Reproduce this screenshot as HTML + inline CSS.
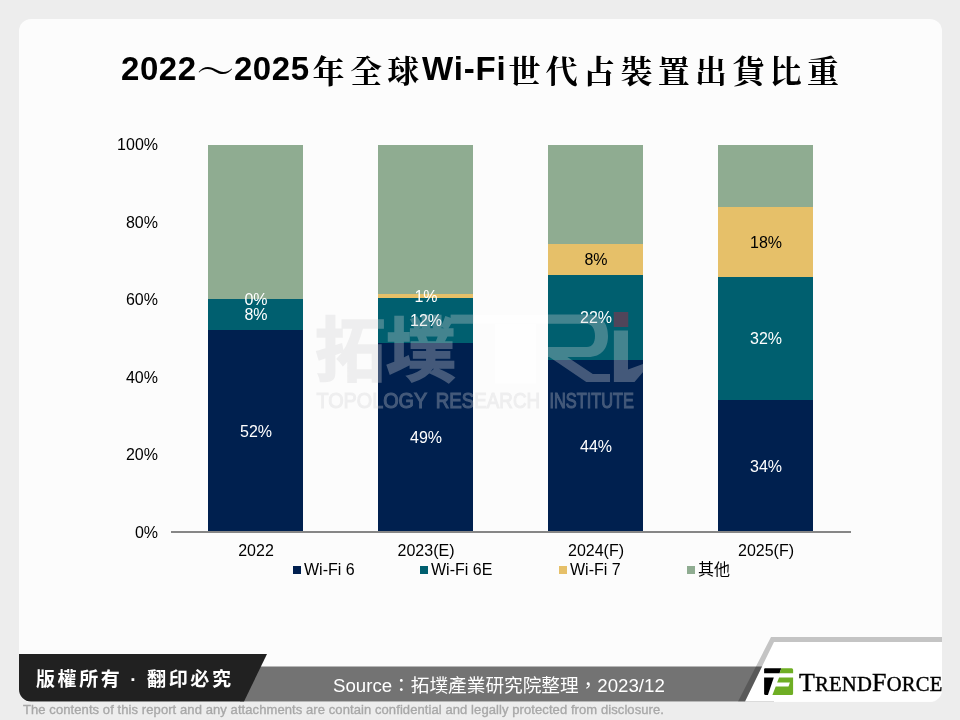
<!DOCTYPE html>
<html lang="zh-Hant">
<head>
<meta charset="utf-8">
<title>2022～2025年全球Wi-Fi世代占裝置出貨比重</title>
<style>
html,body{margin:0;padding:0;}
body{width:960px;height:720px;background:#ededed;position:relative;overflow:hidden;
  font-family:"Liberation Sans","Noto Sans CJK TC","Noto Sans CJK SC",sans-serif;}
.abs{position:absolute;}
#card{left:19px;top:19px;width:923px;height:683px;background:#fcfcfc;border-radius:12px;}
#title{left:121px;top:46px;width:800px;text-align:left;white-space:nowrap;line-height:48px;height:48px;
  color:#000;font-size:36px;}
#title .l{font-family:"Liberation Sans",sans-serif;font-weight:bold;font-size:33px;letter-spacing:0.55px;position:relative;top:-6px;}
#title .wf{letter-spacing:0.8px;margin-left:-2.5px;}
#title .c1{margin-left:3px;}
#title .c2{margin-left:2px;}
#title .c{font-family:"Noto Serif CJK SC","Noto Sans CJK SC",serif;font-weight:700;font-size:32px;letter-spacing:5.33px;position:relative;top:-3px;}
#title .w{font-family:"Noto Serif CJK SC","Noto Sans CJK SC",serif;font-weight:400;font-size:37.33px;position:relative;top:-1.5px;}
.seg{position:absolute;}
.navy{background:#00204f;}
.teal{background:#005f6f;}
.yel{background:#e6c069;}
.grn{background:#8fac91;}
.yl{position:absolute;width:60px;left:98px;text-align:right;font-size:16px;line-height:18px;height:18px;color:#000;}
.xl{position:absolute;width:170px;text-align:center;font-size:16px;line-height:18px;height:18px;top:542px;color:#000;}
.dl{position:absolute;width:96px;text-align:center;font-size:16px;line-height:18px;height:18px;color:#fff;}
.dl.k{color:#000;}
.lg{position:absolute;top:561px;font-size:16px;line-height:18px;height:18px;color:#000;white-space:nowrap;}
.lg i{position:absolute;left:-11px;top:5px;width:8px;height:8px;display:block;}
#axis{left:171px;top:531px;width:680px;height:2px;background:#868686;}
#wm{left:0;top:0;width:960px;height:720px;pointer-events:none;}
#copy{left:36px;top:667px;font-size:19px;line-height:26px;font-weight:bold;color:#fff;letter-spacing:2.6px;white-space:nowrap;
  font-family:"Liberation Sans","Noto Sans CJK TC","Noto Sans CJK SC",sans-serif;}
#src{left:333px;top:673px;font-size:18.67px;line-height:26px;color:#fff;white-space:nowrap;}
#foot{left:23px;top:702px;font-size:13px;line-height:16px;color:#a8a8a8;white-space:nowrap;letter-spacing:0.085px;-webkit-text-stroke:0.35px #a8a8a8;}
#tf{left:799px;top:666px;font-family:"Liberation Serif",serif;color:#000;white-space:nowrap;line-height:34px;font-size:20.6px;-webkit-text-stroke:0.4px #000;letter-spacing:0.22px;width:143px;overflow:hidden;}
#tf b{font-weight:normal;font-size:26px;}
</style>
</head>
<body>
<div id="card" class="abs"></div>

<div id="title" class="abs"><span class="l">2022</span><span class="w">～</span><span class="l">2025</span><span class="c c1">年全球</span><span class="l wf">Wi-Fi</span><span class="c c2">世代占裝置出貨比重</span></div>

<!-- y axis labels -->
<div class="yl" style="top:136px">100%</div>
<div class="yl" style="top:214px">80%</div>
<div class="yl" style="top:291px">60%</div>
<div class="yl" style="top:369px">40%</div>
<div class="yl" style="top:446px">20%</div>
<div class="yl" style="top:524px">0%</div>

<!-- bars -->
<div id="bars" class="abs" style="left:0;top:0">
  <!-- 2022 -->
  <div class="seg grn"  style="left:208px;width:95px;top:145px;height:154px"></div>
  <div class="seg teal" style="left:208px;width:95px;top:299px;height:31px"></div>
  <div class="seg navy" style="left:208px;width:95px;top:330px;height:202px"></div>
  <!-- 2023 -->
  <div class="seg grn"  style="left:378px;width:95px;top:145px;height:149px"></div>
  <div class="seg yel"  style="left:378px;width:95px;top:294px;height:4px"></div>
  <div class="seg teal" style="left:378px;width:95px;top:298px;height:45px"></div>
  <div class="seg navy" style="left:378px;width:95px;top:343px;height:189px"></div>
  <!-- 2024 -->
  <div class="seg grn"  style="left:548px;width:95px;top:145px;height:99px"></div>
  <div class="seg yel"  style="left:548px;width:95px;top:244px;height:31px"></div>
  <div class="seg teal" style="left:548px;width:95px;top:275px;height:85px"></div>
  <div class="seg navy" style="left:548px;width:95px;top:360px;height:172px"></div>
  <!-- 2025 -->
  <div class="seg grn"  style="left:718px;width:95px;top:145px;height:62px"></div>
  <div class="seg yel"  style="left:718px;width:95px;top:207px;height:70px"></div>
  <div class="seg teal" style="left:718px;width:95px;top:277px;height:123px"></div>
  <div class="seg navy" style="left:718px;width:95px;top:400px;height:132px"></div>
</div>
<div id="axis" class="abs"></div>

<!-- data labels -->
<div class="dl" style="left:208px;top:291px">0%</div>
<div class="dl" style="left:208px;top:306px">8%</div>
<div class="dl" style="left:208px;top:423px">52%</div>
<div class="dl" style="left:378px;top:288px">1%</div>
<div class="dl" style="left:378px;top:312px">12%</div>
<div class="dl" style="left:378px;top:429px">49%</div>
<div class="dl k" style="left:548px;top:251px">8%</div>
<div class="dl" style="left:548px;top:309px">22%</div>
<div class="dl" style="left:548px;top:438px">44%</div>
<div class="dl k" style="left:718px;top:234px">18%</div>
<div class="dl" style="left:718px;top:330px">32%</div>
<div class="dl" style="left:718px;top:458px">34%</div>

<!-- x labels -->
<div class="xl" style="left:171px">2022</div>
<div class="xl" style="left:341px">2023(E)</div>
<div class="xl" style="left:511px">2024(F)</div>
<div class="xl" style="left:681px">2025(F)</div>

<!-- legend -->
<div class="lg" style="left:304px"><i class="navy"></i>Wi-Fi 6</div>
<div class="lg" style="left:431px"><i class="teal"></i>Wi-Fi 6E</div>
<div class="lg" style="left:570px"><i class="yel"></i>Wi-Fi 7</div>
<div class="lg" style="left:698px"><i class="grn"></i>其他</div>

<!-- watermark -->
<svg id="wm" class="abs" viewBox="0 0 960 720">
  <rect x="473.5" y="314.6" width="74.5" height="9.2" fill="#ffffff" fill-opacity="0.6"/>
  <rect x="495" y="323.75" width="41" height="60" fill="#ffffff" fill-opacity="0.6"/>
  <g fill="#d2d2d4" stroke="#d2d2d4" stroke-width="0" opacity="0.32">
    <text x="315" y="376" font-family="'Noto Sans CJK TC','Noto Sans CJK SC',sans-serif" font-weight="700" stroke-width="1.6" font-size="70" textLength="141" lengthAdjust="spacingAndGlyphs">拓墣</text>
    <text x="316.4" y="408" font-family="'Liberation Sans',sans-serif" font-size="22" stroke-width="1.1"><tspan x="316.4" textLength="110.5" lengthAdjust="spacingAndGlyphs">TOPOLOGY</tspan> <tspan x="435.7" textLength="104.3" lengthAdjust="spacingAndGlyphs">RESEARCH</tspan> <tspan x="549.5" textLength="84.5" lengthAdjust="spacingAndGlyphs">INSTITUTE</tspan></text>
    <!-- TRi mark -->
    <path d="M450.6 314.6 H473.5 V323.75 H450.6 Z"/>
    <path d="M548 314.6 H588 C602 314.6 608 324 608 336 C608 348 602 357 588 357 H548 V347 H586 C592 347.5 595 343 595 336 C595 329 592 323.75 586 323.75 H548 Z"/>
    <path d="M549.4 357 H567.3 L592.8 374 H610 V382 H586.3 Z"/>
    <path d="M613.9 330.6 H628 V369.6 L643 364 L643.5 371.5 L634.5 382 H613.9 Z"/>
  </g>
  <rect x="613.75" y="312" width="14.5" height="15" fill="#c81e3c" fill-opacity="0.4"/>
</svg>

<!-- footer bars -->
<svg class="abs" style="left:0;top:0" width="960" height="720" viewBox="0 0 960 720">
  <!-- gray bar -->
  <polygon points="240,666.6 774,666.6 774,701.5 240,701.5" fill="#737373"/>
  <!-- white logo box -->
  <path d="M774 642 H942 V690 A12 12 0 0 1 930 701.5 H745 Z" fill="#ffffff"/>
  <!-- stripe -->
  <polygon points="771,637 942,637 942,642 774,642 745,701.5 738,701.5" fill="#000" fill-opacity="0.22"/>
  <!-- black band -->
  <path d="M19 654 H267 L244 701.5 H31 A12 12 0 0 1 19 689.5 Z" fill="#212121"/>
  <!-- TF icon -->
  <path d="M765.2 668.2 H781.3 L779.6 673.3 H764.1 V669.3 A1.1 1.1 0 0 1 765.2 668.2 Z" fill="#000"/>
  <path d="M764.1 677.5 H773.8 L767.9 695 H765.6 A1.5 1.5 0 0 1 764.1 693.5 Z" fill="#000"/>
  <path d="M781.3 668.2 H791.6 A1.5 1.5 0 0 1 793.1 669.7 V673.3 H779.6 Z" fill="#6fae24"/>
  <path d="M779.1 677.5 H793.1 V693.5 A1.5 1.5 0 0 1 791.6 695 H772.4 L775.7 686.6 H788.5 L789.9 682.5 H777.1 Z" fill="#6fae24"/>
</svg>

<div id="copy" class="abs">版權所有 · 翻印必究</div>
<div id="src" class="abs">Source：拓墣產業研究院整理，2023/12</div>
<div id="tf" class="abs"><b>T</b>REND<b>F</b>ORCE</div>
<div id="foot" class="abs">The contents of this report and any attachments are contain confidential and legally protected from disclosure.</div>
</body>
</html>
